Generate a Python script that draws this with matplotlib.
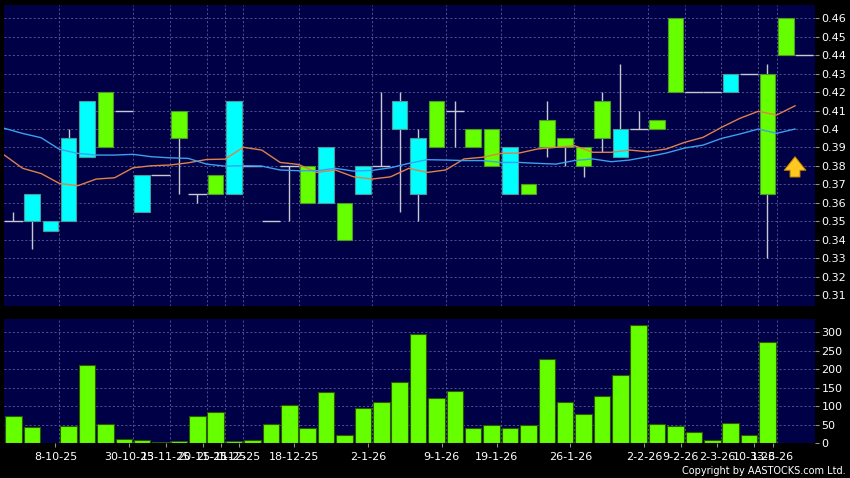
import matplotlib.pyplot as plt

# daily candles, one slot per trading day (last slot = today)
opens = [0.35, 0.35, 0.345, 0.35, 0.385, 0.42, 0.41, 0.355, 0.375, 0.41,
         0.365, 0.375, 0.365, 0.38, 0.35, 0.38, 0.38, 0.36, 0.36, 0.365,
         0.38, 0.40, 0.365, 0.415, 0.41, 0.40, 0.40, 0.365, 0.37, 0.405,
         0.395, 0.39, 0.415, 0.385, 0.40, 0.405, 0.46, 0.42, 0.42, 0.42,
         0.43, 0.43, 0.46, 0.44]
highs = [0.355, 0.365, 0.35, 0.40, 0.415, 0.42, 0.41, 0.375, 0.375, 0.41,
         0.365, 0.375, 0.415, 0.38, 0.35, 0.38, 0.38, 0.39, 0.36, 0.38,
         0.42, 0.42, 0.40, 0.415, 0.415, 0.40, 0.40, 0.39, 0.37, 0.415,
         0.395, 0.39, 0.42, 0.435, 0.41, 0.405, 0.46, 0.42, 0.42, 0.43,
         0.43, 0.435, 0.46, 0.44]
lows = [0.35, 0.335, 0.345, 0.35, 0.385, 0.39, 0.41, 0.355, 0.375, 0.365,
        0.36, 0.365, 0.365, 0.38, 0.35, 0.35, 0.36, 0.36, 0.34, 0.365,
        0.38, 0.355, 0.35, 0.39, 0.39, 0.39, 0.38, 0.365, 0.365, 0.385,
        0.38, 0.374, 0.3875, 0.385, 0.40, 0.40, 0.42, 0.42, 0.42, 0.42,
        0.43, 0.33, 0.44, 0.44]
closes = [0.35, 0.365, 0.35, 0.395, 0.415, 0.39, 0.41, 0.375, 0.375, 0.395,
          0.365, 0.365, 0.415, 0.38, 0.35, 0.38, 0.36, 0.39, 0.34, 0.38,
          0.38, 0.415, 0.395, 0.39, 0.41, 0.39, 0.38, 0.39, 0.365, 0.39,
          0.39, 0.38, 0.395, 0.40, 0.40, 0.40, 0.42, 0.42, 0.42, 0.43,
          0.43, 0.365, 0.44, 0.44]

# moving averages (drawn at the left edge of each slot)
ma_short = [0.3859, 0.3787, 0.3759, 0.3705, 0.3693, 0.3729, 0.3736, 0.3790, 0.3801, 0.3805,
            0.3817, 0.3835, 0.3837, 0.3901, 0.3886, 0.3819, 0.3808, 0.3765, 0.3778, 0.3741,
            0.3729, 0.3741, 0.3787, 0.3765, 0.3778, 0.3838, 0.3847, 0.3868, 0.3870, 0.3892,
            0.3901, 0.3910, 0.3874, 0.3874, 0.3886, 0.3877, 0.3892, 0.3928, 0.3955, 0.4009,
            0.4058, 0.4096, 0.4076, 0.4126]
ma_long = [0.4004, 0.3976, 0.3953, 0.3890, 0.3868, 0.3859, 0.3859, 0.3863, 0.3850, 0.3844,
           0.3841, 0.3810, 0.3799, 0.3801, 0.3799, 0.3778, 0.3774, 0.3774, 0.3787, 0.3772,
           0.3776, 0.3790, 0.3814, 0.3834, 0.3832, 0.3829, 0.3829, 0.3819, 0.3819, 0.3814,
           0.3810, 0.3829, 0.3838, 0.3823, 0.3832, 0.3850, 0.3870, 0.3897, 0.3913, 0.3949,
           0.3973, 0.4000, 0.3977, 0.4000]

# volume ('000)
volume = [74, 44, 2, 47, 211, 52, 12, 9, 4, 6,
          74, 86, 8, 10, 52, 104, 42, 138, 22, 95,
          112, 167, 297, 122, 141, 42, 51, 41, 51, 229,
          112, 80, 128, 184, 320, 53, 46, 32, 9, 56,
          22, 275, 2, 0]

date_pos = [2.5, 6.5, 8.5, 10.5, 11.5, 12.5, 15.5, 19.5, 23.5, 26.5,
            30.5, 34.5, 36.5, 38.5, 40.5, 41.5]
date_labels = ['8-10-25', '30-10-25', '13-11-25', '20-11-25', '25-11-25', '1-12-25',
               '18-12-25', '2-1-26', '9-1-26', '19-1-26', '26-1-26', '2-2-26',
               '9-2-26', '2-3-26', '10-3-26', '13-3-26']

price_ticks = [0.31, 0.32, 0.33, 0.34, 0.35, 0.36, 0.37, 0.38, 0.39, 0.40,
               0.41, 0.42, 0.43, 0.44, 0.45, 0.46]
vol_ticks = [0, 50, 100, 150, 200, 250, 300]

navy = '#000046'
grid_col = '#5c5c9c'
up_col = '#00ffff'
down_col = '#66ff00'

fig = plt.figure(figsize=(8.5, 4.78), dpi=100, facecolor='black')
ax1 = fig.add_axes([0.00506, 0.3598, 0.9532, 0.6297])
ax2 = fig.add_axes([0.00506, 0.0722, 0.9532, 0.2605])

x = list(range(len(closes)))

for ax in (ax1, ax2):
    ax.set_facecolor(navy)
    for s in ax.spines.values():
        s.set_visible(False)
    ax.set_xlim(-0.5, 43.56)
    ax.yaxis.tick_right()
    ax.tick_params(axis='y', colors='#909090', labelcolor='white', labelsize=8,
                   length=3, width=0.8, pad=2)
    for b in date_pos:
        ax.axvline(b, color=grid_col, lw=0.6, ls=(0, (2.5, 2.5)), zorder=0)
    ax.grid(axis='y', color=grid_col, lw=0.6, ls=(0, (2.5, 2.5)), zorder=0)
    ax.set_axisbelow(True)

# price panel
ax1.set_ylim(0.3041, 0.4672)
ax1.set_yticks(price_ticks)
ax1.set_yticklabels(['%g' % t for t in price_ticks])
ax1.set_xticks([])

body_x, body_bot, body_h, body_c, body_e = [], [], [], [], []
for i in x:
    o, h, l, c = opens[i], highs[i], lows[i], closes[i]
    if h > max(o, c):
        ax1.vlines(i, max(o, c), h, color='#c8c8d0', lw=1, zorder=2)
    if l < min(o, c):
        ax1.vlines(i, l, min(o, c), color='#c8c8d0', lw=1, zorder=2)
    if o == c:
        ax1.hlines(c, i - 0.5, i + 0.5, color='#c8c8d0', lw=1, zorder=2)
    else:
        body_x.append(i)
        body_bot.append(min(o, c))
        body_h.append(abs(c - o))
        body_c.append(up_col if c > o else down_col)
        body_e.append('#4a9c9c' if c > o else '#4c9a2a')

ax1.bar(body_x, body_h, bottom=body_bot, width=0.84, color=body_c,
        edgecolor=body_e, linewidth=0.8, zorder=3)

ma_x = [i - 0.5 for i in x]
ax1.plot(ma_x, ma_short, color='#e0804a', lw=1, zorder=4)
ax1.plot(ma_x, ma_long, color='#3aa0f0', lw=1, zorder=4)

ax1.annotate('', xy=(42.5, 0.3865), xytext=(42.5, 0.3725),
             arrowprops=dict(arrowstyle='simple,head_width=1.2,head_length=0.75,tail_width=0.55',
                             fc='#ffc820', ec='#c08000', lw=0.7, mutation_scale=13),
             zorder=5)

# volume panel
ax2.bar(x, volume, width=0.9, color=down_col, edgecolor='#2a5a00', linewidth=0.8, zorder=3)
ax2.set_ylim(0, 336.5)
ax2.set_yticks(vol_ticks)
ax2.set_xticks([p - 0.22 for p in date_pos])
ax2.set_xticklabels(date_labels)
ax2.tick_params(axis='x', colors='#909090', labelcolor='white', labelsize=8,
                length=3, width=0.8, pad=3)

fig.text(0.995, 0.005, 'Copyright by AASTOCKS.com Ltd.', color='white',
         fontsize=7, ha='right', va='bottom')

fig.savefig('out.png', dpi=100, facecolor='black')
